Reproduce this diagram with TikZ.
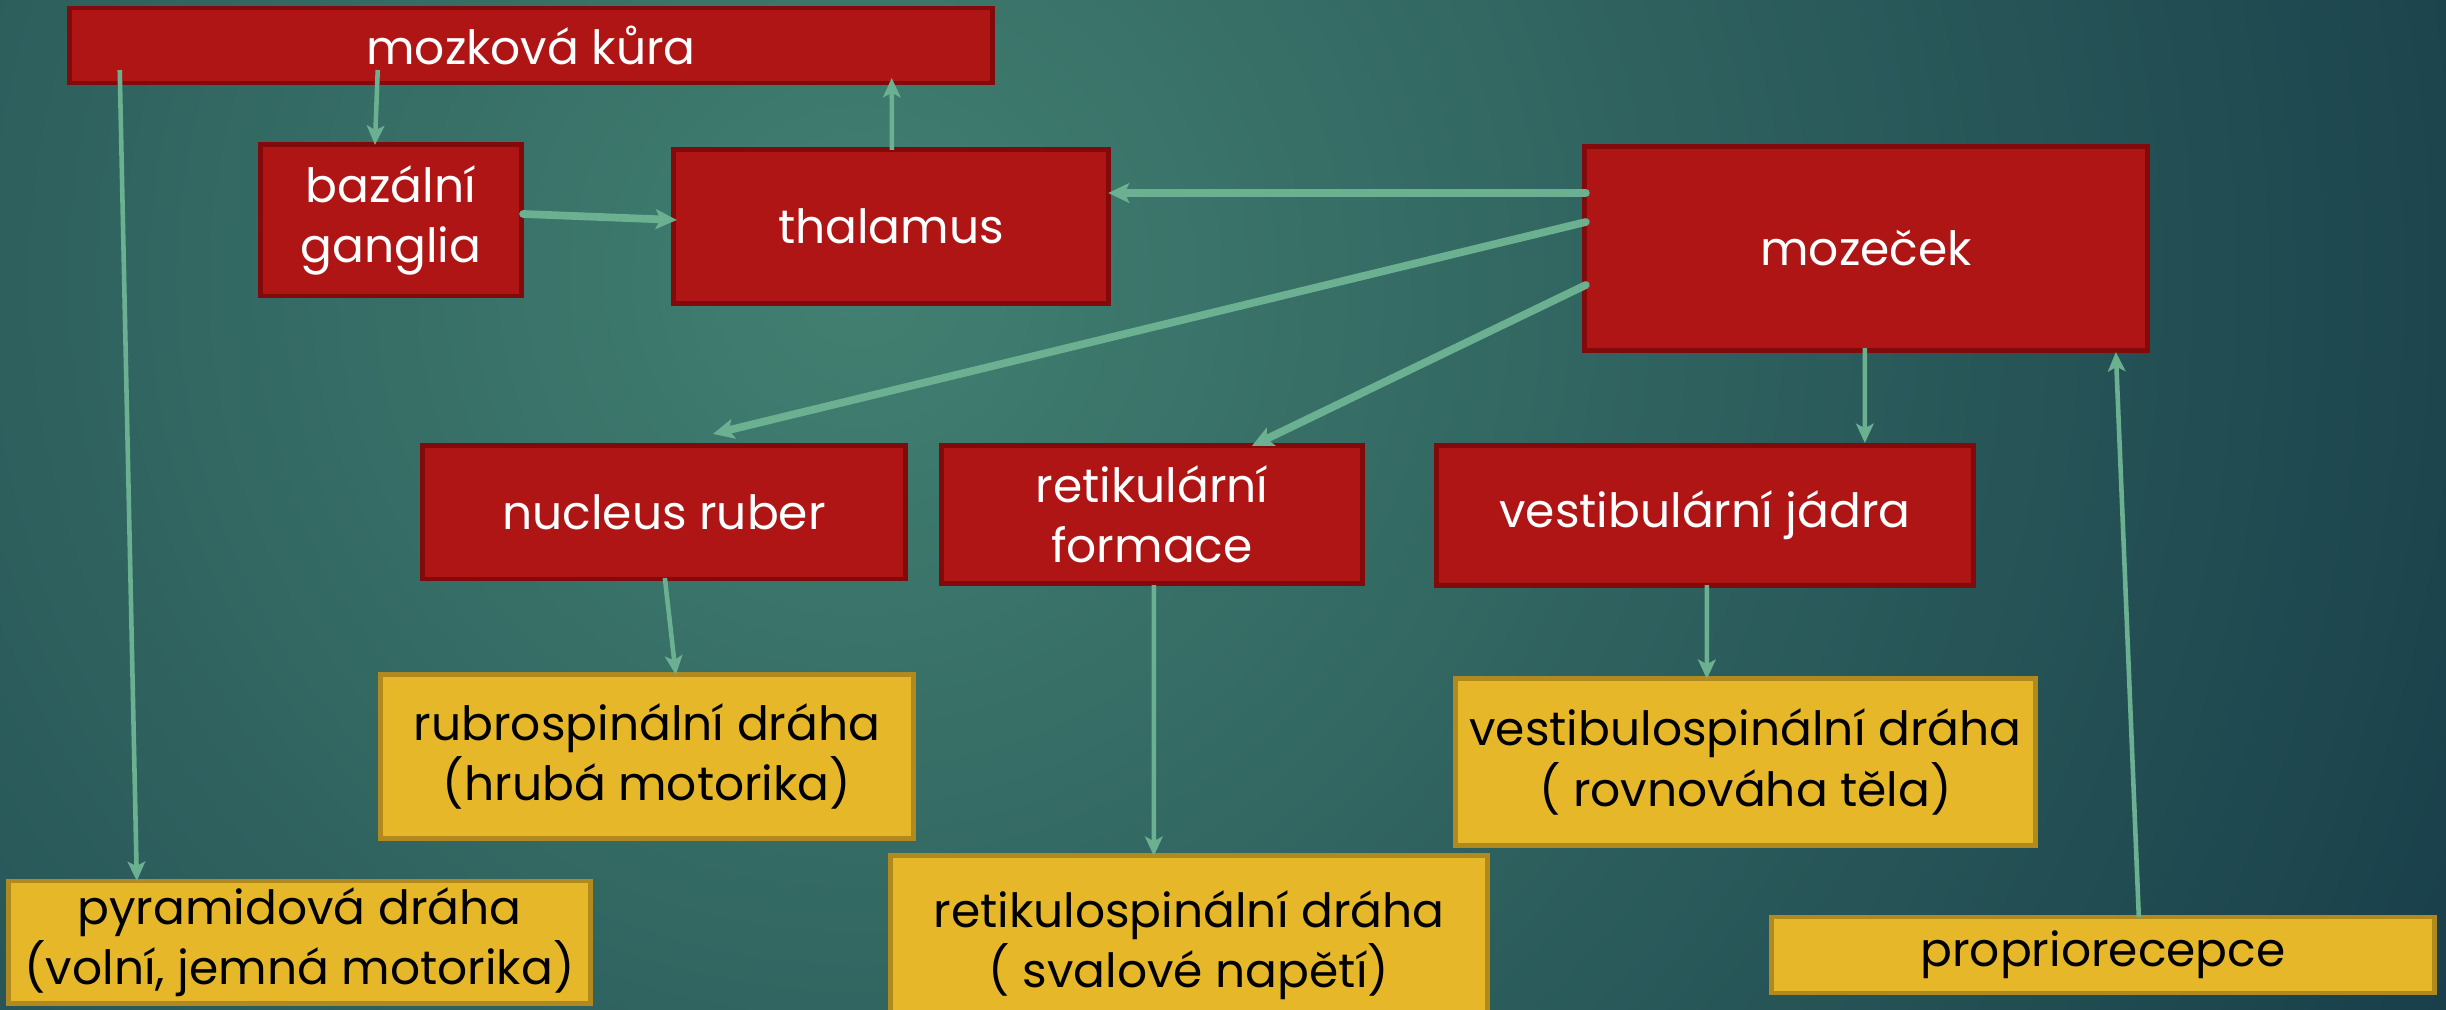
\documentclass[tikz,border=0pt]{standalone}
\usepackage{fontspec}
\setmainfont{Poppins}
\usetikzlibrary{arrows.meta,calc}
\definecolor{bglight}{RGB}{66,128,113}
\definecolor{bgdark}{RGB}{14,46,64}
\definecolor{redfill}{RGB}{176,21,21}
\definecolor{redline}{RGB}{130,10,10}
\definecolor{yelfill}{RGB}{229,183,41}
\definecolor{yelline}{RGB}{176,138,30}
\definecolor{arrowc}{RGB}{106,176,145}
\tikzset{
  redbox/.style={draw=redline, fill=redfill, line width=1.4pt, text=white,
    inner sep=0pt, outer sep=0pt, align=center,
    font=\fontsize{13.4}{17.2}\selectfont},
  yelbox/.style={draw=yelline, fill=yelfill, line width=1.4pt, text=black,
    inner sep=0pt, outer sep=0pt, align=center,
    font=\fontsize{13.4}{17.2}\selectfont},
  thinarr/.style={draw=arrowc, line width=1.3pt,
    -{Stealth[length=5.5pt,width=5pt,inset=1.3pt]}},
  thickarr/.style={draw=arrowc, line width=2.2pt, line cap=round,
    -{Stealth[length=6pt,width=5.6pt,inset=1.3pt]}},
}
\begin{document}
\begin{tikzpicture}[x=0.01cm,y=-0.01cm]
\useasboundingbox (0,0) rectangle (2446,1010);
\begin{scope}
\clip (0,0) rectangle (2446,1010);
\shade[inner color=bglight, outer color=bgdark] (860,280) circle (2200);

\node[redbox, minimum width=9.22cm, minimum height=0.75cm] (mozkova) at (531,45.5) {mozková kůra};
\node[redbox, minimum width=2.60cm, minimum height=1.51cm] (bazalni) at (391,220.5) {bazální\\ganglia};
\node[redbox, minimum width=4.34cm, minimum height=1.53cm] (thalamus) at (891,226.5) {thalamus};
\node[redbox, minimum width=5.62cm, minimum height=2.03cm] (mozecek) at (1866,248.5) {mozeček};
\node[redbox, minimum width=4.82cm, minimum height=1.33cm] (nucleus) at (664,512.5) {nucleus ruber};
\node[redbox, minimum width=4.20cm, minimum height=1.37cm] (retik) at (1152,514.5) {retikulární\\formace};
\node[redbox, minimum width=5.36cm, minimum height=1.39cm] (vestib) at (1705,515.5) {vestibulární jádra};

\node[yelbox, minimum width=5.32cm, minimum height=1.63cm] (rubro) at (647,756.5) {rubrospinální dráha\\(hrubá motorika)};
\node[yelbox, minimum width=5.79cm, minimum height=1.66cm] (vestibsp) at (1745.5,762) {vestibulospinální dráha\\( rovnováha těla)};
\node[yelbox, minimum width=5.81cm, minimum height=1.22cm] (pyram) at (299.5,942) {pyramidová dráha\\(volní, jemná motorika)};
\node[yelbox, minimum width=5.96cm, minimum height=1.78cm] (retiksp) at (1189,945) {retikulospinální dráha\\( svalové napětí)};
\node[yelbox, minimum width=6.62cm, minimum height=0.76cm] (propri) at (2103,955) {propriorecepce};

% connectors
\draw[thinarr] ($(mozkova.south west)+(50,-13)$) -- ($(pyram.north west)+(128,0)$);
\draw[thinarr] ($(mozkova.south west)+(308,-13)$) -- ($(bazalni.north west)+(114,0)$);
\draw[thinarr] ($(thalamus.north west)+(218,0)$) -- ($(mozkova.south west)+(822,-5)$);
\draw[thickarr] ($(bazalni.east)+(2,-6.5)$) -- ($(thalamus.west)+(3,-6.5)$);
\draw[thickarr] ($(mozecek.west)+(1,-55.5)$) -- ($(thalamus.east)+(0,-33.5)$);
\draw[thickarr] ($(mozecek.west)+(1,-26.5)$) -- ($(nucleus.north west)+(290,-12)$);
\draw[thickarr] ($(mozecek.west)+(1,36.5)$) -- ($(retik.north west)+(310,0)$);
\draw[thinarr] ($(mozecek.south west)+(280,-2)$) -- ($(vestib.north west)+(428,-3)$);
\draw[thinarr] ($(propri.north west)+(367,0)$) -- ($(mozecek.south west)+(531,2)$);
\draw[thinarr] ($(nucleus.south west)+(242,-1)$) -- ($(rubro.north west)+(295,0)$);
\draw[thinarr] ($(retik.south west)+(212,2)$) -- ($(retiksp.north west)+(263,0)$);
\draw[thinarr] ($(vestib.south west)+(270,0)$) -- ($(vestibsp.north west)+(251,0)$);
\end{scope}
\end{tikzpicture}
\end{document}
